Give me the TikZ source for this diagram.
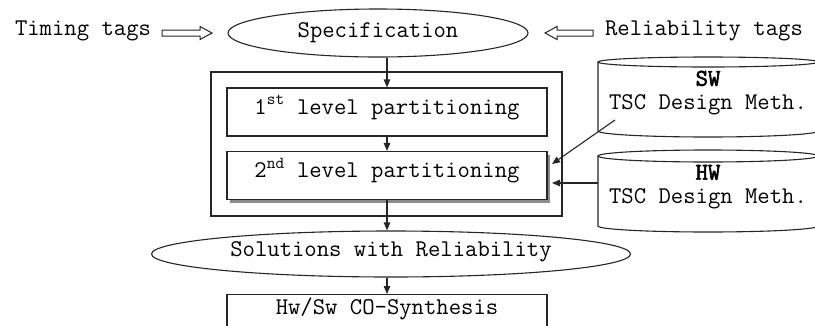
\documentclass[tikz,border=0pt]{standalone}
\usepackage{fontspec}
\setmonofont{Latin Modern Mono}[AutoFakeBold=2.5]
\usetikzlibrary{arrows.meta,shapes.geometric,shadows}
\begin{document}
\begin{tikzpicture}[x=1pt,y=-1pt,
  every node/.style={font=\ttfamily\fontsize{24}{24}\selectfont},
  ln/.style={line width=1.1pt,draw=black!85},
  boxnode/.style={ln,draw,rectangle,minimum width=320pt,minimum height=48pt,inner sep=0pt,text height=14pt,text depth=10pt},
  ellnode/.style={ln,draw,ellipse,inner sep=0pt},
  hollow/.style={ln,line width=1pt,fill=white,line join=miter},
  arr/.style={ln,-{Triangle[length=8pt,width=6.5pt]}},
  cyl/.style={ln,fill=white}
]
\useasboundingbox (0,0) rectangle (815,325);
\clip (0,0) rectangle (815,325);

% top row
\node (timing) at (83,31) {Timing tags};
\node[ellnode,minimum width=300pt,minimum height=48pt] (spec) at (378,33) {Specification};
\node (reltags) at (704,31) {Reliability tags};
\draw[hollow,shift={(162,33)}] (0,-3) -- (38,-3) -- (38,-6.5) -- (50,0) -- (38,6.5) -- (38,3) -- (0,3) -- cycle;
\draw[hollow,shift={(593,33)},xscale=-1] (0,-3) -- (36,-3) -- (36,-6.5) -- (48,0) -- (36,6.5) -- (36,3) -- (0,3) -- cycle;

% partitioning block
\node[ln,draw,rectangle,minimum width=351pt,minimum height=144pt,inner sep=0pt] (outer) at (386.5,144) {};
\node[boxnode] (p1) at (387,112) {1\textsuperscript{st} level partitioning};
\node[boxnode,fill=white,drop shadow={shadow xshift=3pt,shadow yshift=-3pt,fill=black!45,opacity=1}] (p2) at (387,175.5) {2\textsuperscript{nd} level partitioning};

% solutions and synthesis
\node[ellnode,minimum width=479pt,minimum height=46pt,text height=14pt,text depth=10pt] (sol) at (391,254) {Solutions with Reliability};
\node[boxnode,anchor=north,text depth=22pt] (hw) at (387,294) {Hw/Sw CO-Synthesis};

% cylinders
\draw[cyl] (598,62) -- (598,131) arc[start angle=180,end angle=360,x radius=110pt,y radius=6pt] -- (818,62);
\draw[cyl] (708,62) ellipse[x radius=110pt,y radius=5pt];
\node[align=center] (swt) at (708,93) {\textbf{SW}\\TSC Design Meth.};
\draw[cyl] (598,156) -- (598,226) arc[start angle=180,end angle=360,x radius=110pt,y radius=6pt] -- (818,156);
\draw[cyl] (708,156) ellipse[x radius=110pt,y radius=6pt];
\node[align=center] (hwt) at (708,187) {\textbf{HW}\\TSC Design Meth.};
\coordinate (swout) at (615,120);
\coordinate (hwout) at (598,183);
\coordinate (p2in1) at (552,164);
\coordinate (p2in2) at (552,183);

% connectors
\draw[arr] (p1.north |- spec.south) -- (p1.north);
\draw[arr] (p1.south) -- (p2.north);
\draw[arr] (p2.south) -- (p2.south |- sol.north);
\draw[arr] (hw.north |- sol.south) -- (hw.north);
\draw[arr] (swout) -- (p2in1);
\draw[arr] (hwout) -- (p2in2);
\end{tikzpicture}
\end{document}
